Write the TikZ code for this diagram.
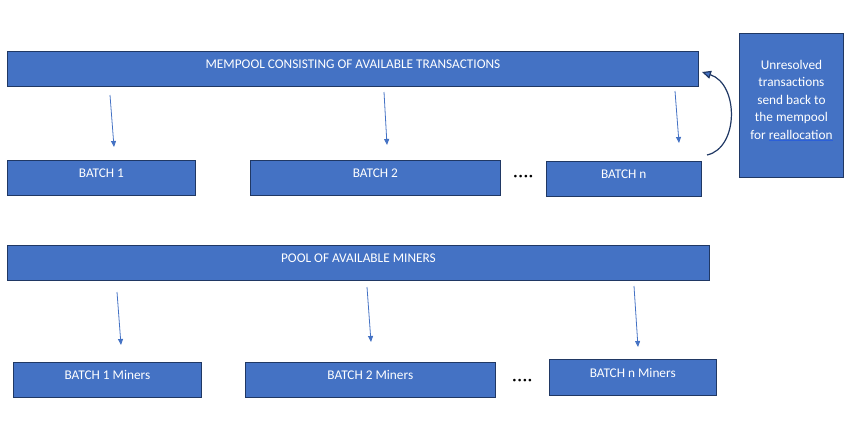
\documentclass[tikz,border=0pt]{standalone}
\usepackage{fontspec}
\setmainfont{Carlito}
\usetikzlibrary{positioning,calc,arrows.meta}
\definecolor{boxblue}{HTML}{4472C4}
\definecolor{boxline}{HTML}{203864}
\definecolor{spellblue}{HTML}{2B5FD9}

\begin{document}
\begin{tikzpicture}[x=1pt,y=-1pt,
    box/.style={draw=boxline,fill=boxblue,line width=0.9pt,text=white,inner sep=0pt,
        font=\fontsize{13.3}{15}\selectfont,text height=10pt,text depth=10pt,minimum height=35pt},
    flow/.style={draw=boxblue,line width=0.8pt,-{Triangle[length=6pt,width=5pt]}},
    back/.style={draw=boxline,line width=1.2pt,-{Triangle[length=9pt,width=8pt,fill=boxblue]}},
    dots/.style={inner sep=0pt,font=\fontsize{14}{14}\selectfont\bfseries}]
    \useasboundingbox (0,0) rectangle (847,445);

    % transactions
    \node[box,anchor=north west,minimum width=691pt] (mempool) at (7,51) {MEMPOOL CONSISTING OF AVAILABLE TRANSACTIONS};
    \node[box,below right=73pt and 0pt of mempool.south west,minimum width=188pt] (b1) {BATCH 1};
    \node[box,right=54pt of b1,minimum width=250pt] (b2) {BATCH 2};
    \node[box,right=45pt of b2,yshift=-1pt,minimum width=155pt] (bn) {BATCH n};
    \node[dots] (dots1) at ($(b2.east)!0.5!(bn.west)$) {·\hspace{1.4pt}·\hspace{1.4pt}·\hspace{1.4pt}·};

    \node[box,anchor=north west,minimum width=104pt,minimum height=144pt] (note) at (739,33) {};
    \node[text=white,align=center,inner sep=0pt,font=\fontsize{13.3}{17.5}\selectfont] (notetxt) at ([yshift=5pt]note.center)
        {Unresolved\\transactions\\send back to\\the mempool\\for {\color{spellblue}\underline{\color{white}reallocation}}};

    % miners
    \node[box,below right=49pt and 0pt of b1.south west,minimum width=702pt] (pool) {POOL OF AVAILABLE MINERS};
    \node[box,below right=81pt and 6pt of pool.south west,minimum width=188pt] (bm1) {BATCH 1 Miners};
    \node[box,right=43pt of bm1,minimum width=250pt] (bm2) {BATCH 2 Miners};
    \node[box,right=53pt of bm2,yshift=2.5pt,minimum width=167pt,minimum height=36pt] (bmn) {BATCH n Miners};
    \node[dots,yshift=-3.5pt] (dots2) at ($(bm2.east)!0.5!(bmn.west)$) {·\hspace{1.4pt}·\hspace{1.4pt}·\hspace{1.4pt}·};

    \coordinate (t1) at (110,95);  \coordinate (t1e) at (114,147);
    \coordinate (t2) at (384,92);  \coordinate (t2e) at (387,145);
    \coordinate (t3) at (675,91);  \coordinate (t3e) at (679,143);
    \coordinate (m1) at (117,292); \coordinate (m1e) at (121,345);
    \coordinate (m2) at (367,287); \coordinate (m2e) at (371,342);
    \coordinate (m3) at (634,286); \coordinate (m3e) at (638,347);
    \coordinate (backs) at (707,155);
    \coordinate (backe) at (702,72);

    \path
    (t1) edge[flow] (t1e)
    (t2) edge[flow] (t2e)
    (t3) edge[flow] (t3e)
    (m1) edge[flow] (m1e)
    (m2) edge[flow] (m2e)
    (m3) edge[flow] (m3e)
    ;
    \draw[back] (backs) .. controls (739,148) and (739,84) .. (backe);
\end{tikzpicture}
\end{document}
